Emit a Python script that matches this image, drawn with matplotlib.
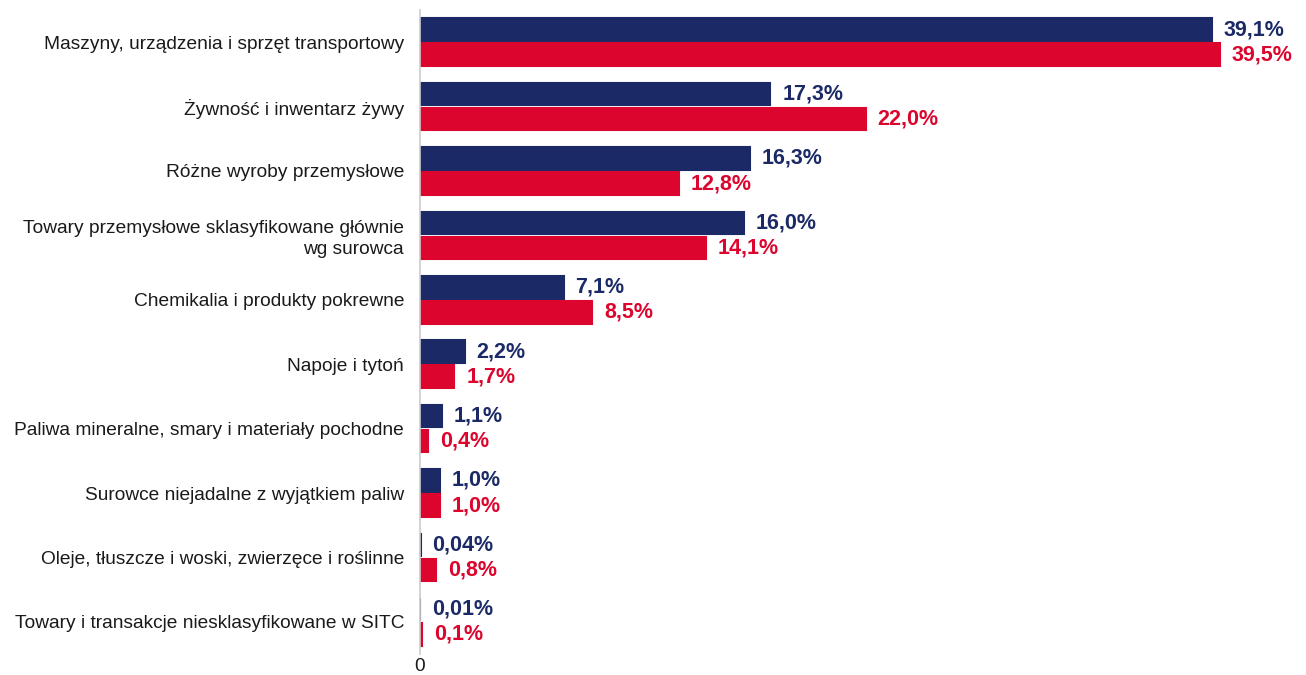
import numpy as np
import matplotlib.pyplot as plt

categories = [
    'Maszyny, urządzenia i sprzęt transportowy',
    'Żywność i inwentarz żywy',
    'Różne wyroby przemysłowe',
    'Towary przemysłowe sklasyfikowane głównie\nwg surowca',
    'Chemikalia i produkty pokrewne',
    'Napoje i tytoń',
    'Paliwa mineralne, smary i materiały pochodne',
    'Surowce niejadalne z wyjątkiem paliw',
    'Oleje, tłuszcze i woski, zwierzęce i roślinne',
    'Towary i transakcje niesklasyfikowane w SITC',
]
navy_vals = [39.1, 17.3, 16.3, 16.0, 7.1, 2.2, 1.1, 1.0, 0.04, 0.01]
red_vals = [39.5, 22.0, 12.8, 14.1, 8.5, 1.7, 0.4, 1.0, 0.8, 0.1]
navy_labels = ['39,1%', '17,3%', '16,3%', '16,0%', '7,1%', '2,2%', '1,1%', '1,0%', '0,04%', '0,01%']
red_labels = ['39,5%', '22,0%', '12,8%', '14,1%', '8,5%', '1,7%', '0,4%', '1,0%', '0,8%', '0,1%']

navy = '#1b2a66'
red = '#dc052d'

plt.rcParams['font.family'] = ['Liberation Sans', 'DejaVu Sans']

fig = plt.figure(figsize=(13.06, 6.75), dpi=100)
ax = fig.add_axes([420 / 1306, 1 - 654 / 675, 871 / 1306, 644 / 675])

y = np.arange(len(categories))
h = 0.35
off = 0.195
ax.barh(y - off, navy_vals, height=h, color=navy, edgecolor=navy, linewidth=1.5)
ax.barh(y + off, red_vals, height=h, color=red, edgecolor=red, linewidth=1.5)

for i in range(len(categories)):
    ax.annotate(navy_labels[i], (navy_vals[i], y[i] - off), xytext=(8.5, 0),
                textcoords='offset points', va='center', ha='left',
                fontsize=15.5, fontweight='bold', color=navy)
    ax.annotate(red_labels[i], (red_vals[i], y[i] + off), xytext=(8.5, 0),
                textcoords='offset points', va='center', ha='left',
                fontsize=15.5, fontweight='bold', color=red)

ax.set_xlim(0, 43)
ax.set_ylim(len(categories) - 0.5, -0.5)
ax.set_yticks(y)
ax.set_yticklabels(categories, fontsize=13.8, color='#1a1a1a', linespacing=1.3)
ax.set_xticks([0])
ax.set_xticklabels(['0'], fontsize=13.8, color='#1a1a1a')
ax.tick_params(length=0)
ax.tick_params(axis='x', pad=3)
ax.tick_params(axis='y', pad=11.5)
for s in ['top', 'right', 'bottom']:
    ax.spines[s].set_visible(False)
ax.spines['left'].set_color('#cccccc')
ax.spines['left'].set_linewidth(1.2)

fig.savefig('out.png', dpi=100)
